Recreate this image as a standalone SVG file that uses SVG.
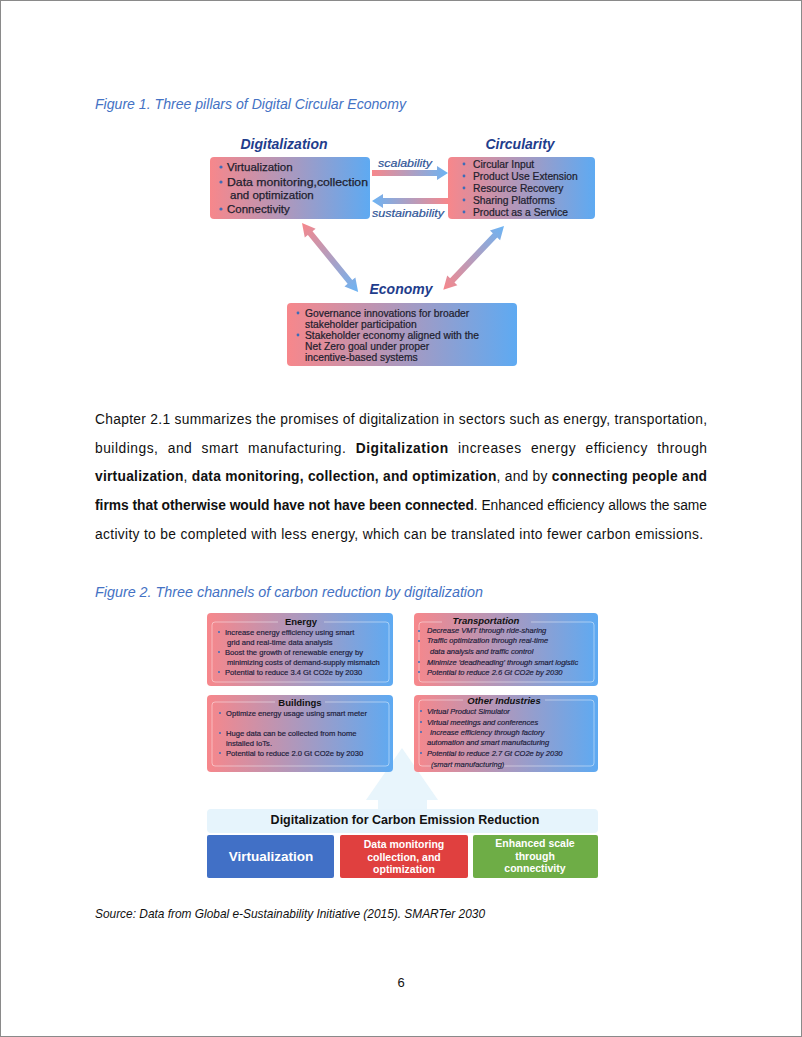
<svg xmlns="http://www.w3.org/2000/svg" width="802" height="1037" viewBox="0 0 802 1037">
<defs>
<linearGradient id="pb" x1="0" y1="0" x2="1" y2="0"><stop offset="0" stop-color="#F7878B"/><stop offset="1" stop-color="#5EAAF2"/></linearGradient>
<linearGradient id="ar1" gradientUnits="userSpaceOnUse" x1="372" y1="0" x2="448" y2="0"><stop offset="0" stop-color="#F7878B"/><stop offset="1" stop-color="#6CB4F4"/></linearGradient>
<linearGradient id="ar2" gradientUnits="userSpaceOnUse" x1="372" y1="0" x2="448" y2="0"><stop offset="0" stop-color="#6CB4F4"/><stop offset="1" stop-color="#F7878B"/></linearGradient>
<linearGradient id="dpb" x1="0" y1="0" x2="1" y2="0"><stop offset="0" stop-color="#F7878B"/><stop offset="1" stop-color="#6CB4F4"/></linearGradient>
<linearGradient id="dbp" x1="0" y1="0" x2="1" y2="0"><stop offset="0" stop-color="#6CB4F4"/><stop offset="1" stop-color="#F7878B"/></linearGradient>
</defs>
<style>
text{font-family:"Liberation Sans",Arial,sans-serif;}
.cap{font-style:italic;font-size:14px;fill:#4472C4;}
.h1{font-weight:bold;font-style:italic;font-size:14px;fill:#1F3D8C;text-anchor:middle;}
.lab{font-style:italic;font-size:11.5px;fill:#2F5597;stroke:#2F5597;stroke-width:0.2;}
.t1{font-size:11.5px;fill:#1E1E2E;stroke:#1E1E2E;stroke-width:0.25;}
.t2{font-size:10.3px;fill:#1E1E2E;stroke:#1E1E2E;stroke-width:0.22;}
.bul{fill:#3D6CB8;}
.para{font-size:13.8px;fill:#111;}
.b{font-weight:bold;}
.h2{font-weight:bold;font-size:9.5px;fill:#111;text-anchor:middle;}
.h2i{font-weight:bold;font-style:italic;font-size:9.5px;fill:#111;text-anchor:middle;}
.t3{font-size:7.6px;fill:#1C1C3A;stroke:#1C1C3A;stroke-width:0.18;}
.t3i{font-size:7.5px;fill:#1C1C3A;font-style:italic;stroke:#1C1C3A;stroke-width:0.18;}
.inner{fill:none;stroke:#FFFFFF;stroke-opacity:0.55;stroke-width:0.8;}
.wb{font-weight:bold;fill:#FFFFFF;text-anchor:middle;}
</style>
<rect x="0.5" y="0.5" width="801" height="1036" fill="#FFFFFF" stroke="#8A8A8A" stroke-width="1"/>

<text class="cap" x="95" y="109" textLength="311" lengthAdjust="spacingAndGlyphs">Figure 1. Three pillars of Digital Circular Economy</text>

<g id="fig1-digitalization">
<text class="h1" x="284" y="149">Digitalization</text>
<rect x="210" y="157" width="160" height="62" rx="4" fill="url(#pb)"/>
<circle class="bul" cx="221" cy="167" r="1.6"/><text class="t1" x="227" y="171">Virtualization</text>
<circle class="bul" cx="221" cy="182" r="1.6"/><text class="t1" x="227" y="186" textLength="141" lengthAdjust="spacingAndGlyphs">Data monitoring,collection</text>
<text class="t1" x="230" y="199">and optimization</text>
<circle class="bul" cx="221" cy="209" r="1.6"/><text class="t1" x="227" y="213">Connectivity</text>
</g>

<g id="fig1-circularity">
<text class="h1" x="520" y="149">Circularity</text>
<rect x="448" y="157" width="147" height="62" rx="4" fill="url(#pb)"/>
<circle class="bul" cx="464" cy="164" r="1.4"/><text class="t2" x="473" y="168">Circular Input</text>
<circle class="bul" cx="464" cy="176" r="1.4"/><text class="t2" x="473" y="180">Product Use Extension</text>
<circle class="bul" cx="464" cy="188" r="1.4"/><text class="t2" x="473" y="192">Resource Recovery</text>
<circle class="bul" cx="464" cy="200" r="1.4"/><text class="t2" x="473" y="204">Sharing Platforms</text>
<circle class="bul" cx="464" cy="212" r="1.4"/><text class="t2" x="473" y="216">Product as a Service</text>
</g>

<g id="fig1-economy">
<text class="h1" x="401" y="294">Economy</text>
<rect x="287" y="303" width="230" height="63" rx="4" fill="url(#pb)"/>
<circle class="bul" cx="298" cy="313" r="1.4"/><text class="t2" x="305" y="317">Governance innovations for broader</text>
<text class="t2" x="305" y="328">stakeholder participation</text>
<circle class="bul" cx="298" cy="335" r="1.4"/><text class="t2" x="305" y="339">Stakeholder economy aligned with the</text>
<text class="t2" x="305" y="350">Net Zero goal under proper</text>
<text class="t2" x="305" y="361">incentive-based systems</text>
</g>

<g id="fig1-connectors">
<polygon points="372,170 437,170 437,166 448,173 437,180 437,176 372,176" fill="url(#ar1)"/>
<text class="lab" x="378" y="167" textLength="54" lengthAdjust="spacingAndGlyphs">scalability</text>
<polygon points="448,198 383,198 383,194 372,201 383,208 383,204 448,204" fill="url(#ar2)"/>
<text class="lab" x="372" y="217" textLength="72" lengthAdjust="spacingAndGlyphs">sustainability</text>
<g transform="translate(302,223) rotate(50.9)">
<polygon points="0,0 13,-7 13,-3 76,-3 76,-7 89,0 76,7 76,3 13,3 13,7" fill="url(#dpb)"/>
</g>
<g transform="translate(504,226) rotate(133.6)">
<polygon points="0,0 13,-7 13,-3 75,-3 75,-7 88,0 75,7 75,3 13,3 13,7" fill="url(#dbp)"/>
</g>
</g>

<g id="paragraph">
<text class="para" x="95" y="424" textLength="612" lengthAdjust="spacing">Chapter 2.1 summarizes the promises of digitalization in sectors such as energy, transportation,</text>
<text class="para" x="95" y="453" textLength="612" lengthAdjust="spacing" word-spacing="5">buildings, and smart manufacturing. <tspan class="b">Digitalization</tspan> increases energy efficiency through</text>
<text class="para" x="95" y="481" textLength="612" lengthAdjust="spacing"><tspan class="b">virtualization</tspan>, <tspan class="b">data monitoring, collection, and optimization</tspan>, and by <tspan class="b">connecting people and</tspan></text>
<text class="para" x="95" y="510" textLength="612" lengthAdjust="spacing"><tspan class="b">firms that otherwise would have not have been connected</tspan>. Enhanced efficiency allows the same</text>
<text class="para" x="95" y="539" textLength="608" lengthAdjust="spacing">activity to be completed with less energy, which can be translated into fewer carbon emissions.</text>
</g>

<text class="cap" x="95" y="597" textLength="388" lengthAdjust="spacingAndGlyphs">Figure 2. Three channels of carbon reduction by digitalization</text>

<g id="fig2-arrow">
<polygon points="402,748 438,800 427,800 427,810 378,810 378,800 366,800" fill="#E8F5FC"/>
</g>

<g id="fig2-energy">
<rect x="207" y="613" width="186" height="73" rx="4" fill="url(#pb)"/>
<path class="inner" d="M324,622 H386 Q389,622 389,625 V679 Q389,682 386,682 H215 Q212,682 212,679 V625 Q212,622 215,622 H278"/>
<text class="h2" x="301" y="625">Energy</text>
<circle class="bul" cx="219" cy="632" r="1"/><text class="t3" x="225" y="635">Increase energy efficiency using smart</text>
<text class="t3" x="227" y="645">grid and real-time data analysis</text>
<circle class="bul" cx="219" cy="652" r="1"/><text class="t3" x="225" y="655">Boost the growth of renewable energy by</text>
<text class="t3" x="227" y="665">minimizing costs of demand-supply mismatch</text>
<circle class="bul" cx="219" cy="672" r="1"/><text class="t3" x="225" y="675">Potential to reduce 3.4 Gt CO2e by 2030</text>
</g>

<g id="fig2-transportation">
<rect x="414" y="613" width="184" height="73" rx="4" fill="url(#pb)"/>
<path class="inner" d="M531,622 H591 Q594,622 594,625 V679 Q594,682 591,682 H422 Q419,682 419,679 V625 Q419,622 422,622 H442"/>
<text class="h2i" x="486" y="624">Transportation</text>
<circle class="bul" cx="419" cy="631" r="1"/><text class="t3i" x="427" y="633">Decrease VMT through ride-sharing</text>
<circle class="bul" cx="419" cy="641" r="1"/><text class="t3i" x="427" y="643">Traffic optimization through real-time</text>
<text class="t3i" x="430" y="654">data analysis and traffic control</text>
<circle class="bul" cx="419" cy="662" r="1"/><text class="t3i" x="427" y="665">Minimize 'deadheading' through smart logistic</text>
<circle class="bul" cx="419" cy="672" r="1"/><text class="t3i" x="427" y="675">Potential to reduce 2.6 Gt CO2e by 2030</text>
</g>

<g id="fig2-buildings">
<rect x="207" y="695" width="186" height="77" rx="4" fill="url(#pb)"/>
<path class="inner" d="M325,702 H386 Q389,702 389,705 V763 Q389,766 386,766 H215 Q212,766 212,763 V705 Q212,702 215,702 H275"/>
<text class="h2" x="300" y="706">Buildings</text>
<circle class="bul" cx="220" cy="713" r="1"/><text class="t3" x="226" y="716">Optimize energy usage using smart meter</text>
<circle class="bul" cx="220" cy="733" r="1"/><text class="t3" x="226" y="736">Huge data can be collected from home</text>
<text class="t3" x="226" y="746">installed IoTs.</text>
<circle class="bul" cx="220" cy="753" r="1"/><text class="t3" x="226" y="756">Potential to reduce 2.0 Gt CO2e by 2030</text>
</g>

<g id="fig2-other">
<rect x="414" y="695" width="184" height="77" rx="4" fill="url(#pb)"/>
<path class="inner" d="M545,700 H591 Q594,700 594,703 V763 Q594,766 591,766 H422 Q419,766 419,763 V703 Q419,700 422,700 H463"/>
<text class="h2i" x="504" y="704">Other Industries</text>
<circle class="bul" cx="421" cy="711" r="1"/><text class="t3i" x="427" y="714">Virtual Product Simulator</text>
<circle class="bul" cx="421" cy="722" r="1"/><text class="t3i" x="427" y="725">Virtual meetings and conferences</text>
<circle class="bul" cx="421" cy="732" r="1"/><text class="t3i" x="430" y="735">Increase efficiency through factory</text>
<text class="t3i" x="427" y="745">automation and smart manufacturing</text>
<circle class="bul" cx="421" cy="753" r="1"/><text class="t3i" x="427" y="756">Potential to reduce 2.7 Gt CO2e by 2030</text>
<text class="t3i" x="431" y="767">(smart manufacturing)</text>
</g>

<g id="fig2-band">
<rect x="207" y="809" width="391" height="24" rx="4" fill="#E6F4FC"/>
<text x="405" y="824" font-size="12.5" font-weight="bold" fill="#111" text-anchor="middle">Digitalization for Carbon Emission Reduction</text>
</g>

<g id="fig2-virtualization">
<rect x="207" y="835" width="127" height="43" rx="2" fill="#4170C6"/>
<text class="wb" x="271" y="861" font-size="13.5">Virtualization</text>
</g>
<g id="fig2-data">
<rect x="340" y="835" width="128" height="43" rx="2" fill="#E0403F"/>
<text class="wb" x="404" y="848" font-size="10.5">Data monitoring</text>
<text class="wb" x="404" y="861" font-size="10.5">collection, and</text>
<text class="wb" x="404" y="873" font-size="10.5">optimization</text>
</g>
<g id="fig2-connectivity">
<rect x="473" y="835" width="125" height="43" rx="2" fill="#6EAD46"/>
<text class="wb" x="535" y="847" font-size="10.5">Enhanced scale</text>
<text class="wb" x="535" y="860" font-size="10.5">through</text>
<text class="wb" x="535" y="872" font-size="10.5">connectivity</text>
</g>

<text x="95" y="918" font-size="13" font-style="italic" fill="#111" textLength="390" lengthAdjust="spacingAndGlyphs">Source: Data from Global e-Sustainability Initiative (2015). SMARTer 2030</text>
<text x="401" y="987" font-size="13" fill="#111" text-anchor="middle">6</text>
</svg>
